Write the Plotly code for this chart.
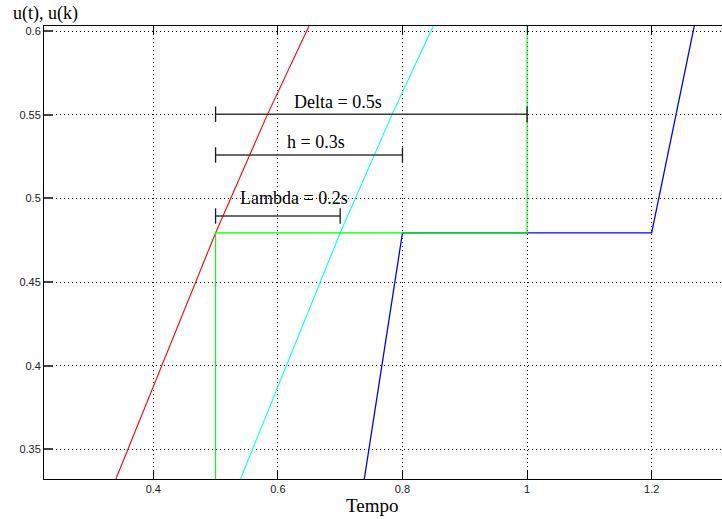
import plotly.graph_objects as go

# ---- data ----
red_x = [0.340, 0.500, 0.583, 0.650]
red_y = [0.3322, 0.4794, 0.550, 0.6032]

cyan_x = [0.540, 0.700, 0.783, 0.8494]
cyan_y = [0.3322, 0.4794, 0.550, 0.6032]

blue_x = [0.7387, 0.800, 1.200, 1.2684]
blue_y = [0.3322, 0.4794, 0.4794, 0.6032]

green_x = [0.500, 0.500, 1.000, 1.000]
green_y = [0.3322, 0.4794, 0.4794, 0.6032]

dim_labels = ["Delta = 0.5s", "h = 0.3s", "Lambda = 0.2s"]
dim_start = [0.5, 0.5, 0.5]
dim_end = [1.0, 0.8, 0.7]
dim_level = [0.5504, 0.526, 0.4895]

x_ticks = [0.4, 0.6, 0.8, 1.0, 1.2]
x_ticklabels = ["0.4", "0.6", "0.8", "1", "1.2"]
y_ticks = [0.35, 0.4, 0.45, 0.5, 0.55, 0.6]
y_ticklabels = ["0.35", "0.4", "0.45", "0.5", "0.55", "0.6"]

x_range = [0.2246, 1.3129]
y_range = [0.3322, 0.60317]

SERIF = "Liberation Serif, Times New Roman, serif"
SANS = "Liberation Sans, Arial, sans-serif"

W, H = 722, 519
L, R, T, B = 44, 0, 26, 40

def px_to_paper(px, py):
    return (px - L) / (W - L - R), 1 - (py - T) / (H - T - B)

fig = go.Figure()

fig.add_trace(go.Scatter(x=red_x, y=red_y, mode="lines",
                         line=dict(color="#ff0000", width=1.1), hoverinfo="skip"))
fig.add_trace(go.Scatter(x=cyan_x, y=cyan_y, mode="lines",
                         line=dict(color="#00ffff", width=1.1), hoverinfo="skip"))
fig.add_trace(go.Scatter(x=blue_x, y=blue_y, mode="lines",
                         line=dict(color="#0000ff", width=1.3), hoverinfo="skip"))
fig.add_trace(go.Scatter(x=green_x, y=green_y, mode="lines",
                         line=dict(color="#00ff00", width=1.1), hoverinfo="skip"))

# dimension lines with end ticks
label_pos = [(0.6973, 0.5579), (0.6612, 0.5340), (0.6258, 0.5001)]
for i, lab in enumerate(dim_labels):
    fig.add_trace(go.Scatter(
        x=[dim_start[i], dim_end[i]], y=[dim_level[i], dim_level[i]],
        mode="lines+markers",
        line=dict(color="#3a3a3a", width=1.6),
        marker=dict(symbol="line-ns", size=11,
                    line=dict(color="#1a1a1a", width=1.3)),
        hoverinfo="skip"))
    fig.add_annotation(x=label_pos[i][0], y=label_pos[i][1],
                       xref="x", yref="y", text=lab, showarrow=False,
                       xanchor="center", yanchor="middle",
                       font=dict(family=SERIF, size=18, color="#000000"))

ax, ay = px_to_paper(45, 13)
fig.add_annotation(x=ax, y=ay, xref="paper", yref="paper", text="u(t), u(k)",
                   showarrow=False, xanchor="center", yanchor="middle",
                   font=dict(family=SERIF, size=18, color="#000"))
tx, ty = px_to_paper(372, 505)
fig.add_annotation(x=tx, y=ty, xref="paper", yref="paper", text="Tempo",
                   showarrow=False, xanchor="center", yanchor="middle",
                   font=dict(family=SERIF, size=19, color="#000"))

fig.update_layout(
    width=W, height=H,
    margin=dict(l=L, r=R, t=T, b=B, pad=0),
    plot_bgcolor="#ffffff", paper_bgcolor="#ffffff",
    showlegend=False,
    xaxis=dict(range=x_range, tickvals=x_ticks, ticktext=x_ticklabels,
               showgrid=True, gridcolor="#000000", griddash="1px,3px", gridwidth=1,
               showline=True, linecolor="#000000", linewidth=1, mirror="ticks",
               ticks="inside", ticklen=9, tickcolor="#000000", tickwidth=1,
               zeroline=False,
               tickfont=dict(family=SANS, size=11, color="#222222")),
    yaxis=dict(range=y_range, tickvals=y_ticks, ticktext=y_ticklabels,
               showgrid=True, gridcolor="#000000", griddash="1px,3px", gridwidth=1,
               showline=True, linecolor="#000000", linewidth=1, mirror=False,
               ticks="inside", ticklen=9, tickcolor="#444444", tickwidth=1.5,
               zeroline=False,
               tickfont=dict(family=SANS, size=11, color="#222222")),
)

fig.write_html("out.html")
